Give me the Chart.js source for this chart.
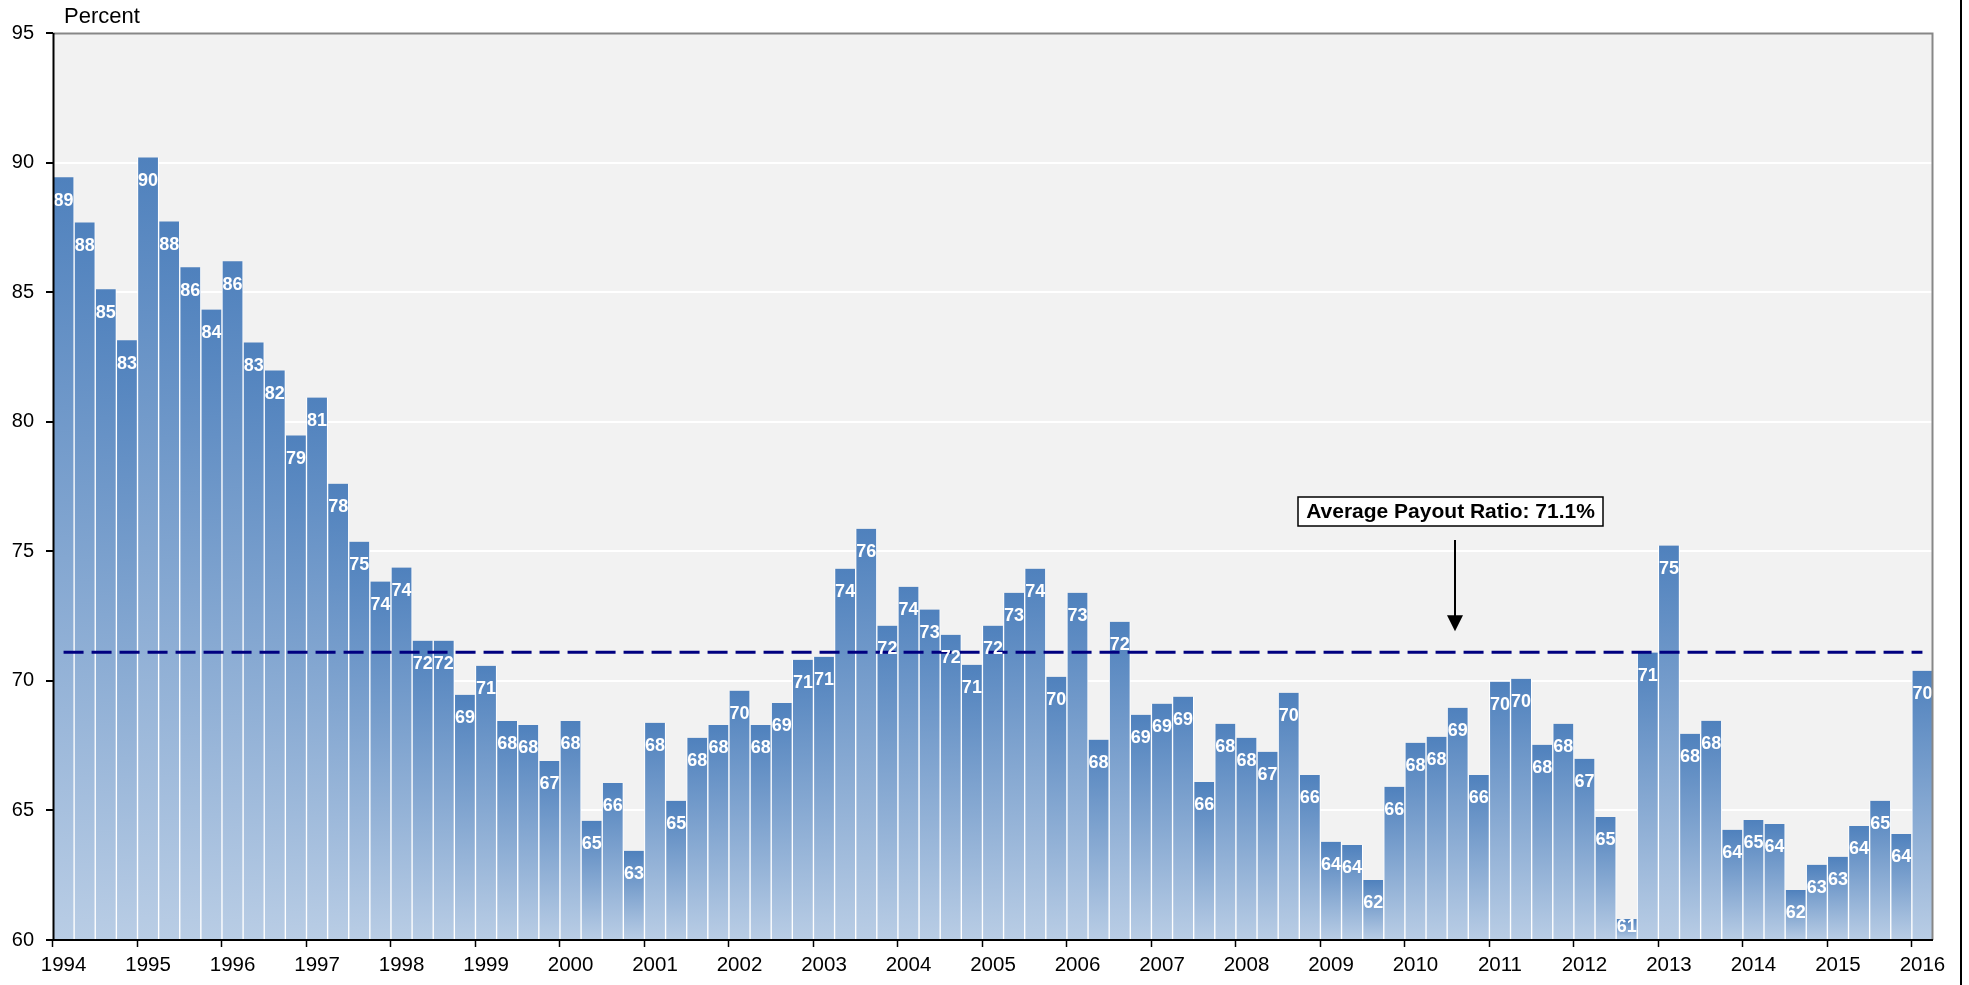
<!DOCTYPE html>
<html>
<head>
<meta charset="utf-8">
<script src="https://cdn.jsdelivr.net/npm/chart.js@4.4.1/dist/chart.umd.min.js"></script>
<style>
  html, body { margin: 0; padding: 0; background: #ffffff; }
  #wrap { width: 1969px; height: 985px; position: relative; }
</style>
</head>
<body>
<div id="wrap"><canvas id="chart"></canvas></div>
<script>
// ---------------- DATA ----------------
const yearLabels = ['1994','1995','1996','1997','1998','1999','2000','2001','2002','2003','2004',
  '2005','2006','2007','2008','2009','2010','2011','2012','2013','2014','2015','2016'];
const quarterNames = ['Q1','Q2','Q3','Q4'];

// Payout ratio (percent), quarterly 1994 Q1 .. 2016 Q1
const payoutRatio = [
  89.43, 87.69, 85.11, 83.14,   // 1994
  90.20, 87.73, 85.96, 84.33,   // 1995
  86.19, 83.06, 81.98, 79.47,   // 1996
  80.93, 77.61, 75.37, 73.83,   // 1997
  74.37, 71.55, 71.55, 69.46,   // 1998
  70.58, 68.45, 68.30, 66.91,   // 1999
  68.45, 64.60, 66.06, 63.44,   // 2000
  68.38, 65.37, 67.80, 68.30,   // 2001
  69.62, 68.30, 69.15, 70.81,   // 2002
  70.93, 74.33, 75.87, 72.13,   // 2003
  73.63, 72.75, 71.78, 70.62,   // 2004
  72.13, 73.40, 74.33, 70.16,   // 2005
  73.40, 67.73, 72.28, 68.69,   // 2006
  69.12, 69.39, 66.10, 68.34,   // 2007
  67.80, 67.26, 69.54, 66.37,   // 2008
  63.79, 63.67, 62.32, 65.91,   // 2009
  67.61, 67.84, 68.96, 66.37,   // 2010
  69.97, 70.08, 67.53, 68.34,   // 2011
  66.99, 64.75, 60.81, 71.09,   // 2012
  75.22, 67.96, 68.46, 64.25,   // 2013
  64.63, 64.48, 61.93, 62.90,   // 2014
  63.21, 64.40, 65.37, 64.09,   // 2015
  70.39                         // 2016
];
const averageRatio = 71.1;
const yTicks = [60, 65, 70, 75, 80, 85, 90, 95];
const annotationText = 'Average Payout Ratio: 71.1%';
const axisTitle = 'Percent';

// categories
const categories = [];
for (const y of yearLabels) {
  for (const q of quarterNames) {
    if (categories.length < payoutRatio.length) categories.push(y + ' ' + q);
  }
}

const FONT = "'Liberation Sans', Arial, Helvetica, sans-serif";

// ---------------- PLUGINS ----------------
const backgroundPlugin = {
  id: 'bg',
  beforeDraw(chart) {
    const { ctx, chartArea: a } = chart;
    ctx.save();
    ctx.fillStyle = '#ffffff';
    ctx.fillRect(0, 0, chart.width, chart.height);
    ctx.fillStyle = '#f2f2f2';
    ctx.fillRect(a.left, a.top, a.right - a.left, a.bottom - a.top);
    ctx.restore();
  }
};

const overlayPlugin = {
  id: 'overlay',
  afterDatasetsDraw(chart) {
    const { ctx, chartArea: a, scales } = chart;
    const xS = scales.x, yS = scales.y;
    const meta = chart.getDatasetMeta(0);
    ctx.save();

    // average dashed line (behind the value labels)
    const yAvg = yS.getPixelForValue(averageRatio);
    ctx.strokeStyle = '#000080';
    ctx.lineWidth = 3;
    ctx.setLineDash([20, 8]);
    ctx.beginPath();
    ctx.moveTo(xS.getPixelForValue(0), yAvg);
    ctx.lineTo(xS.getPixelForValue(payoutRatio.length - 1), yAvg);
    ctx.stroke();
    ctx.setLineDash([]);

    // value labels inside bars
    ctx.fillStyle = '#ffffff';
    ctx.font = 'bold 18px ' + FONT;
    ctx.textAlign = 'center';
    ctx.textBaseline = 'middle';
    meta.data.forEach((bar, i) => {
      const yy = Math.min(bar.y + 23.5, a.bottom - 12.5);
      ctx.fillText(String(Math.round(payoutRatio[i])), bar.x, yy);
    });

    // gray top and right frame of plot area
    ctx.strokeStyle = '#878787';
    ctx.lineWidth = 2;
    ctx.beginPath();
    ctx.moveTo(a.left, a.top + 0.5);
    ctx.lineTo(a.right - 0.5, a.top + 0.5);
    ctx.lineTo(a.right - 0.5, a.bottom);
    ctx.stroke();

    // axis lines
    ctx.strokeStyle = '#000000';
    ctx.lineWidth = 2;
    ctx.beginPath();
    ctx.moveTo(a.left + 0.5, a.top);
    ctx.lineTo(a.left + 0.5, a.bottom + 1);
    ctx.moveTo(a.left, a.bottom);
    ctx.lineTo(a.right, a.bottom);
    ctx.stroke();

    // annotation box
    const boxL = 1298, boxT = 497, boxW = 305, boxH = 29;
    ctx.fillStyle = '#ffffff';
    ctx.fillRect(boxL, boxT, boxW, boxH);
    ctx.strokeStyle = '#000000';
    ctx.lineWidth = 1.5;
    ctx.strokeRect(boxL, boxT, boxW, boxH);
    ctx.fillStyle = '#000000';
    ctx.font = 'bold 21px ' + FONT;
    ctx.textAlign = 'center';
    ctx.textBaseline = 'middle';
    ctx.fillText(annotationText, boxL + boxW / 2, boxT + boxH / 2 + 1);

    // arrow
    const ax = 1455, ay0 = 540, ay1 = yAvg - 21;
    ctx.lineWidth = 2;
    ctx.beginPath();
    ctx.moveTo(ax, ay0);
    ctx.lineTo(ax, ay1 - 14);
    ctx.stroke();
    ctx.beginPath();
    ctx.moveTo(ax - 8, ay1 - 16);
    ctx.lineTo(ax + 8, ay1 - 16);
    ctx.lineTo(ax, ay1);
    ctx.closePath();
    ctx.fill();

    ctx.restore();
  },
  afterDraw(chart) {
    const { ctx } = chart;
    ctx.save();
    ctx.fillStyle = '#000000';
    ctx.font = '22px ' + FONT;
    ctx.textAlign = 'left';
    ctx.textBaseline = 'alphabetic';
    ctx.fillText(axisTitle, 64, 23);
    // right outer frame line
    ctx.strokeStyle = '#000000';
    ctx.lineWidth = 2;
    ctx.beginPath();
    ctx.moveTo(1961, 0);
    ctx.lineTo(1961, chart.height);
    ctx.stroke();
    ctx.restore();
  }
};

// ---------------- CHART ----------------
new Chart(document.getElementById('chart'), {
  type: 'bar',
  data: {
    labels: categories,
    datasets: [{
      label: 'Payout Ratio',
      data: payoutRatio,
      backgroundColor: (c) => {
        const chart = c.chart;
        if (!chart.chartArea || c.type !== 'data') return '#4f81bd';
        const yS = chart.scales.y;
        const top = yS.getPixelForValue(c.raw);
        const bottom = yS.getPixelForValue(yS.min);
        const g = chart.ctx.createLinearGradient(0, top, 0, bottom);
        g.addColorStop(0, '#4f81bd');
        g.addColorStop(1, '#b9cde5');
        return g;
      },
      borderColor: '#ffffff',
      borderWidth: { left: 1, right: 1, top: 0, bottom: 0 },
      borderSkipped: false,
      barPercentage: 1.0,
      categoryPercentage: 1.0
    }]
  },
  options: {
    responsive: true,
    maintainAspectRatio: false,
    animation: false,
    events: [],
    layout: { padding: { top: 33, right: 36, bottom: 0, left: 0 } },
    plugins: {
      legend: { display: false },
      title: { display: false },
      tooltip: { enabled: false }
    },
    scales: {
      x: {
        type: 'category',
        offset: true,
        border: { display: false },
        grid: {
          display: true,
          offset: true,
          drawOnChartArea: false,
          drawTicks: true,
          tickLength: 7,
          tickWidth: 1.5,
          color: 'rgba(0,0,0,0)',
          tickColor: (c) => (c.index % 4 === 0 && c.index < payoutRatio.length) ? '#000000' : 'rgba(0,0,0,0)'
        },
        ticks: {
          autoSkip: false,
          maxRotation: 0,
          minRotation: 0,
          padding: 6,
          color: '#000000',
          font: { family: FONT, size: 20.5 },
          callback: (v, i) => (i % 4 === 0) ? yearLabels[i / 4] : ''
        },
        afterFit: (s) => { s.height = 45; }
      },
      y: {
        min: yTicks[0],
        max: yTicks[yTicks.length - 1],
        border: { display: false },
        grid: {
          color: '#ffffff',
          lineWidth: 2,
          tickColor: '#000000',
          tickLength: 7,
          tickWidth: 2
        },
        ticks: {
          stepSize: 5,
          padding: 12,
          color: '#000000',
          font: { family: FONT, size: 20 }
        },
        afterFit: (s) => { s.width = 53; }
      }
    }
  },
  plugins: [backgroundPlugin, overlayPlugin]
});
</script>
</body>
</html>
